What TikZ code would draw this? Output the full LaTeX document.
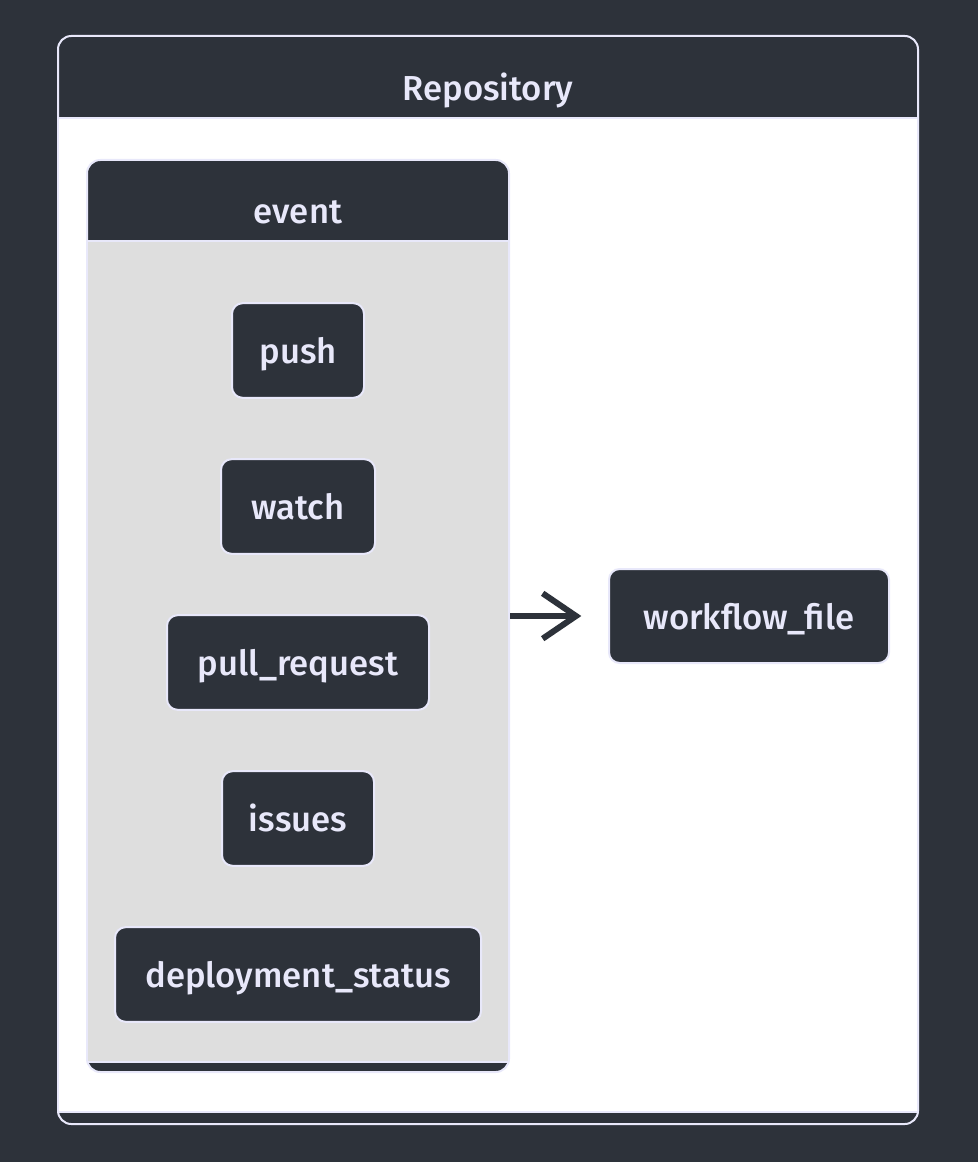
\documentclass[tikz,border=0pt]{standalone}
\usepackage{fontspec}
\IfFontExistsTF{Fira Sans Medium}{\setmainfont{Fira Sans Medium}}{\setmainfont{Fira Sans}[AutoFakeBold=1.2]}
\usetikzlibrary{positioning,arrows.meta}
\definecolor{bgdark}{RGB}{45,50,58}
\definecolor{lav}{RGB}{232,232,250}
\definecolor{bodygrey}{RGB}{222,222,222}

\begin{document}
\begin{tikzpicture}[x=0.75pt, y=-0.75pt,
    frame/.style={rounded corners=10pt, draw=lav, line width=1.5pt, fill=bgdark, inner sep=0pt},
    box/.style={rounded corners=8pt, draw=lav, line width=1.5pt, fill=bgdark, text=lav,
        font=\fontsize{26}{30}\selectfont, minimum height=71pt, inner sep=0pt,
        text height=20pt, text depth=0pt},
    title/.style={text=lav, font=\fontsize{26}{30}\selectfont, text height=20pt, text depth=0pt},
    flow/.style={bgdark, line width=4pt, shorten >=20pt,
        -{Straight Barb[length=25pt, width=34pt, line width=4.5pt]}}]
        % Background
        \fill[bgdark] (0,0) rectangle (978,1162);
        \useasboundingbox (0,0) rectangle (978,1162);

        % Repository cluster
        \node[frame, minimum width=645pt, minimum height=816pt] (repo) at (488,580) {};
        \fill[white] (59,118) rectangle (917,1112);
        \draw[lav, line width=1.5pt] (59,118) -- (917,118);
        \draw[lav, line width=1.5pt] (59,1112) -- (917,1112);
        \node[title] (repotitle) at (488,87) {Repository};

        % Event cluster
        \node[frame, minimum width=316.5pt, minimum height=684pt] (event) at (298,616) {};
        \fill[bodygrey] (88,241) rectangle (508,1062);
        \draw[lav, line width=1.5pt] (88,241) -- (508,241);
        \draw[lav, line width=1.5pt] (88,1062) -- (508,1062);
        \node[title] (eventtitle) at (298,210) {event};

        % Events
        \node[box, minimum width=99pt]    (push)   at (298,350.5) {push};
        \node[box, minimum width=115.5pt] (watch)  at (298,506.5) {watch};
        \node[box, minimum width=196.5pt] (pr)     at (298,662.5) {pull\_request};
        \node[box, minimum width=114pt]   (issues) at (298,818.5) {issues};
        \node[box, minimum width=274.5pt] (deploy) at (298,974.5) {deployment\_status};

        % Workflow file
        \node[box, minimum width=210pt, minimum height=70.5pt] (wf) at (749,616) {workflow\_file};

        % Trigger
        \draw[flow] (event.east) -- (wf.west);
    \end{tikzpicture}
\end{document}
